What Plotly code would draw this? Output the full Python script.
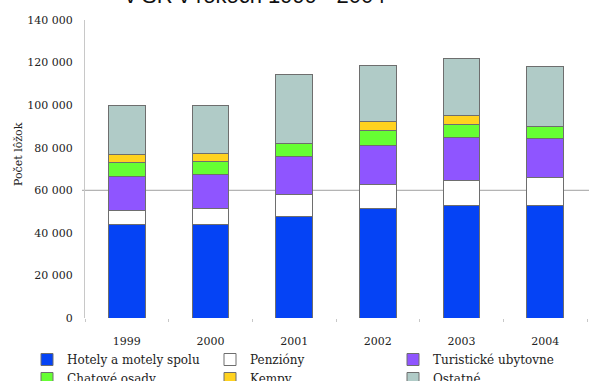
import plotly.graph_objects as go

years = ["1999", "2000", "2001", "2002", "2003", "2004"]
hotely = [43700, 44000, 47600, 51500, 52700, 52700]
penziony = [7000, 7500, 10200, 11400, 11800, 13400]
turisticke = [15700, 15700, 18000, 18000, 20200, 18300]
chatove = [6700, 6500, 6300, 7400, 6300, 5500]
kempy = [3900, 3700, 0, 4200, 4300, 0]
ostatne = [23000, 22600, 32500, 25900, 26800, 28100]

series = [
    ("Hotely a motely spolu", hotely, "#0543F5"),
    ("Penzióny", penziony, "#FFFFFF"),
    ("Turistické ubytovne", turisticke, "#8F55FF"),
    ("Chatové osady", chatove, "#66FF33"),
    ("Kempy", kempy, "#FFD21F"),
    ("Ostatné", ostatne, "#B0CBC7"),
]
y_ticks = [0, 20000, 40000, 60000, 80000, 100000, 120000, 140000]
y_tick_text = ["0", "20 000", "40 000", "60 000", "80 000", "100 000", "120 000", "140 000"]
title_text = "v SR v rokoch 1999 - 2004"
y_title = "Počet lôžok"

serif = "DejaVu Serif, serif"

fig = go.Figure()
for name, vals, col in series:
    fig.add_trace(go.Bar(
        x=years, y=vals, name=name,
        marker=dict(color=col, line=dict(color="#6E6E6E", width=1)),
    ))

W, H = 589, 381
L, R, T, B = 85, 2, 20, 63
pw, ph = W - L - R, H - T - B

def px_x(p):
    return (p - L) / pw

def px_y(p):
    return 1 - (p - T) / ph

annotations = [
    dict(text=title_text, x=px_x(255), y=px_y(10), xref="paper", yref="paper",
         showarrow=False, xanchor="center", yanchor="bottom",
         font=dict(family="Liberation Sans, Arial, sans-serif", size=22, color="#111")),
    dict(text=y_title, x=px_x(18), y=px_y(154), xref="paper", yref="paper",
         showarrow=False, xanchor="center", yanchor="middle", textangle=-90,
         font=dict(family=serif, size=11, color="#222")),
]

fig.update_layout(
    width=W, height=H,
    margin=dict(l=L, r=R, t=T, b=B, pad=0, autoexpand=False),
    paper_bgcolor="white", plot_bgcolor="white",
    barmode="stack", bargap=0.56,
    font=dict(family=serif, size=11, color="#222"),
    showlegend=True,
    legend=dict(orientation="h", xref="paper", yref="paper",
                x=px_x(27), y=px_y(345), xanchor="left", yanchor="top",
                traceorder="normal", entrywidth=138, entrywidthmode="pixels",
                itemwidth=30, font=dict(family=serif, size=12, color="#222"),
                bgcolor="rgba(0,0,0,0)", tracegroupgap=0),
    annotations=annotations,
    shapes=[dict(type="line", xref="paper", yref="y", x0=-0.006, x1=1.01, y0=60000, y1=60000,
                 line=dict(color="#A0A0A0", width=1), layer="below")],
)
fig.update_xaxes(showticklabels=True, showline=False, showgrid=False, zeroline=False,
                 ticks="outside", tickson="boundaries", ticklen=3, tickcolor="#C8C8C8",
                 ticklabelstandoff=15, tickfont=dict(family=serif, size=11, color="#222"))
fig.update_yaxes(range=[0, 140000], tickvals=y_ticks, ticktext=y_tick_text,
                 showline=True, linecolor="#C8C8C8", linewidth=1, showgrid=False, zeroline=False,
                 ticks="", ticklabelstandoff=9, tickfont=dict(family=serif, size=11, color="#222"))

fig.write_html("out.html", config={"displayModeBar": False},
               post_script="document.body.style.margin='0';document.body.style.overflow='hidden';")
